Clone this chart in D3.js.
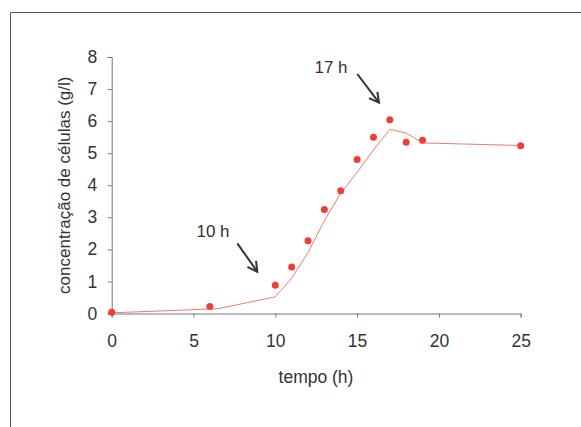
<!DOCTYPE html>
<html>
<head>
<meta charset="utf-8">
<script src="https://cdn.jsdelivr.net/npm/d3@7"></script>
<style>
  html, body { margin: 0; padding: 0; background: #fff; }
  svg { display: block; }
  text { font-family: "Liberation Sans", Arial, sans-serif; fill: #333; }
</style>
</head>
<body>
<svg id="chart" width="581" height="427"></svg>
<script>
// Measured cell concentration (g/l) over time (h)
const measTime = [0, 6, 10, 11, 12, 13, 14, 15, 16, 17, 18, 19, 25];
const measConc = [0.04, 0.22, 0.88, 1.45, 2.27, 3.24, 3.83, 4.8, 5.5, 6.04, 5.34, 5.4, 5.23];

// Model curve
const modelTime = [0, 6.5, 10, 11, 12, 13, 14, 15, 16, 17, 18, 19, 25];
const modelConc = [0.02, 0.15, 0.52, 1.1, 1.9, 2.9, 3.75, 4.4, 5.1, 5.74, 5.63, 5.32, 5.24];

const xTicks = [0, 5, 10, 15, 20, 25];
const yTicks = [0, 1, 2, 3, 4, 5, 6, 7, 8];

// Annotated instants
const notes = [
  { label: "10 h", t: 10 },
  { label: "17 h", t: 17 }
];

const svg = d3.select("#chart");

// outer frame
svg.append("path")
  .attr("d", "M10.5,427 V12.5 H581")
  .attr("fill", "none")
  .attr("stroke", "#555")
  .attr("stroke-width", 1);

const x = d3.scaleLinear().domain([0, 25]).range([111.7, 520.7]);
const y = d3.scaleLinear().domain([0, 8]).range([313.5, 57]);

const xAxis = svg.append("g")
  .attr("transform", `translate(0,${y(0)})`)
  .call(d3.axisBottom(x).tickValues(xTicks).tickSizeOuter(0).tickSize(4).tickPadding(17));
const yAxis = svg.append("g")
  .attr("transform", `translate(${x(0)},0)`)
  .call(d3.axisLeft(y).tickValues(yTicks).tickSizeOuter(0).tickSize(4).tickPadding(10.5));

[xAxis, yAxis].forEach(g => {
  g.select(".domain").attr("stroke", "#777");
  g.selectAll(".tick line").attr("stroke", "#777");
  g.selectAll(".tick text")
    .style("font-family", '"Liberation Sans", Arial, sans-serif')
    .style("font-size", "17.5px")
    .attr("fill", "#333");
});

// axis titles
svg.append("text")
  .attr("x", 316).attr("y", 383)
  .attr("text-anchor", "middle")
  .style("font-size", "17.5px")
  .text("tempo (h)");

svg.append("text")
  .attr("transform", `translate(70,${(y(0) + y(8)) / 2}) rotate(-90)`)
  .attr("text-anchor", "middle")
  .style("font-size", "17px")
  .text("concentração de células (g/l)");

// model line
const line = d3.line().x(d => x(d[0])).y(d => y(d[1]));
svg.append("path")
  .datum(d3.zip(modelTime, modelConc))
  .attr("d", line)
  .attr("fill", "none")
  .attr("stroke", "#f07a6e")
  .attr("stroke-width", 1);

// measured points
svg.append("g")
  .selectAll("circle")
  .data(d3.zip(measTime, measConc))
  .join("circle")
  .attr("cx", d => x(d[0]))
  .attr("cy", d => y(d[1]))
  .attr("r", 3.5)
  .attr("fill", "#ef3e36");

// annotation arrows pointing at each instant
const arrowGeom = {
  "10 h": { x1: 237.3, y1: 243.3, x2: 257.3, y2: 271.7, tx: 213, ty: 237 },
  "17 h": { x1: 357.3, y1: 74, x2: 379, y2: 102.7, tx: 331, ty: 72.5 }
};
const ann = svg.append("g");
notes.forEach(n => {
  const a = arrowGeom[n.label];
  ann.append("text")
    .attr("x", a.tx).attr("y", a.ty)
    .attr("text-anchor", "middle")
    .style("font-size", "17px")
    .text(n.label);
  ann.append("line")
    .attr("x1", a.x1).attr("y1", a.y1)
    .attr("x2", a.x2).attr("y2", a.y2)
    .attr("stroke", "#333").attr("stroke-width", 2);
  const ang = Math.atan2(a.y2 - a.y1, a.x2 - a.x1);
  const len = 11, spread = 0.5;
  const p1 = [a.x2 - len * Math.cos(ang - spread), a.y2 - len * Math.sin(ang - spread)];
  const p2 = [a.x2 - len * Math.cos(ang + spread), a.y2 - len * Math.sin(ang + spread)];
  ann.append("path")
    .attr("d", `M${p1[0]},${p1[1]} L${a.x2},${a.y2} L${p2[0]},${p2[1]}`)
    .attr("fill", "none")
    .attr("stroke", "#333").attr("stroke-width", 2)
    .attr("stroke-linejoin", "miter");
});
</script>
</body>
</html>
